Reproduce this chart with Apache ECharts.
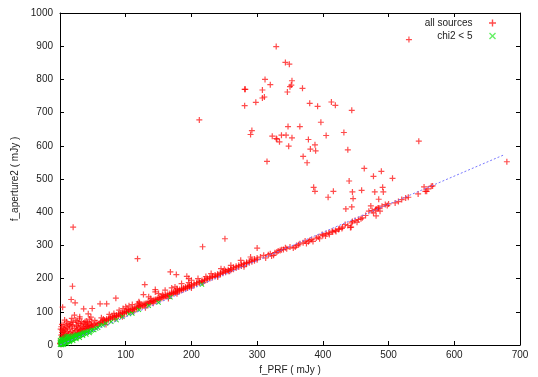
<!DOCTYPE html>
<html>
<head>
<meta charset="utf-8">
<title>f_aperture2 vs f_PRF</title>
<script src="https://cdn.jsdelivr.net/npm/echarts@6/dist/echarts.min.js"></script>
<style>
  html, body { margin: 0; padding: 0; background: #fff; }
  #chart { width: 538px; height: 377px; }
</style>
</head>
<body>
<div id="chart"></div>
<script>
// all sources: the main band along the fit line
var redBand = [
  [0,5],[1,3],[2,8],[1,15],[3,22],[2,30],[4,12],[5,25],[3,38],[6,18],[7,30],[5,45],[8,22],[9,35],[7,50],
  [10,28],[11,40],[12,20],[13,33],[14,48],[15,26],[16,38],[17,55],[18,30],[19,42],[20,25],[21,36],[22,50],
  [23,32],[24,44],[25,60],[26,35],[27,47],[28,38],[29,52],[30,40],[31,45],[32,58],[33,42],[34,50],[35,45],
  [36,55],[37,48],[38,62],[39,50],[40,56],[41,48],[42,60],[43,52],[44,58],[45,50],[46,64],[47,55],[48,60],
  [49,53],[50,58],[52,62],[54,56],[55,66],[57,60],[58,64],[60,65],
  [2,2],[4,6],[6,8],[8,10],[10,12],[12,13],[14,15],[16,18],[3,45],[6,60],[9,55],[12,65],[15,62],[20,68],
  [24,75],[28,66],[10,70],[33,70],[40,72],[45,78],[30,85],[38,70],[22,90],[1,48],[4,32],[2,55],[18,80],
  [5,40],[8,45],[11,52],[14,58],[19,60],[26,56],[31,64],[36,66],[42,68],[48,70],[53,74],[3,62],[7,75],
  [62,66],[62,70],[65,68],[65,73],[68,71],[68,75],[71,74],[71,78],[74,76],[74,80],[77,78],[77,83],
  [80,81],[80,86],[83,83],[83,88],[86,86],[86,90],[89,88],[89,93],[92,90],[92,95],[95,93],[95,98],
  [98,95],[98,100],[101,98],[101,102],[104,100],[104,105],[107,102],[107,107],[110,105],[110,110],
  [113,107],[113,112],[116,110],[116,114],[119,112],[119,117],[122,115],[122,119],[125,117],[125,122],
  [128,119],[128,124],[131,122],[131,126],[134,124],[134,129],[137,126],[137,131],[140,129],[140,134],
  [143,131],[143,136],[146,134],[146,138],[149,136],[149,141],[152,138],[152,143],[155,141],[155,146],
  [158,143],[158,148],[161,146],[161,150],[164,148],[164,153],[167,150],[167,155],[170,153],[170,158],
  [173,155],[173,160],[176,158],[176,162],[179,160],[179,165],[182,163],[182,167],[185,165],[185,170],
  [188,167],[188,172],[191,170],[191,175],[194,172],[194,177],[197,175],[197,179],[200,177],[200,182],
  [204,180],[204,185],[208,183],[208,188],[212,187],[212,191],[216,190],[216,194],[220,193],[220,198],
  [224,196],[224,201],[228,200],[228,204],[232,203],[232,207],[236,206],[236,211],[240,209],[240,214],
  [244,213],[244,217],[248,216],[248,220],[252,219],[252,224],[256,222],[256,227],[260,225],[260,230],
  [264,228],[264,234],[268,232],[268,237],[272,235],[272,240],[276,238],[276,243],[280,241],[280,246],
  [284,245],[284,249],[288,248],[288,253],[292,251],[292,256],[296,254],[296,259],[300,257],[300,262],
  [63,82],[75,92],[90,105],[100,115],[110,122],[120,130],[135,145],[150,155],[160,165],[175,175],
  [185,185],[200,195],[230,215],[260,240],[290,265],[96,110],[105,118],[145,160],[170,172],[210,200],
  [245,230],[275,255],[70,62],[95,85],[130,112],[165,140],[200,172],[240,205],[280,236],
  [66,78],[82,95],[102,108],[118,124],[138,140],[156,152],[178,170],[196,188],[222,206],[250,228],
  [84,78],[112,100],[142,126],[178,154],[218,188],[258,222],
  [317,272],[322,268],[327,278],[332,283],[337,287],[343,293],[358,295],[363,302],[373,313],[378,311],
  [383,318],[393,325],[399,333],[404,328],[409,338],[414,343],[419,345],[424,348],[429,351],[434,363],
  [444,368],[449,375],[454,378],[460,383],[470,403],[480,408],[495,423],[510,428],[520,438],[526,443],
  [556,463],[305,265],[310,270],[313,262],[320,275],[325,270],[330,280],[335,285],[340,288],[345,290],
  [350,295],[355,292],[360,300],[365,305],[370,308],[375,306],[380,315],[385,312],[390,322],[395,320],
  [400,330],[405,336],[410,333],[415,340],[420,342],[425,350],[430,355],[438,360],[445,372],[452,370],
  [458,380],[465,390],[475,405],[485,412],[490,418],[500,425],[515,432],[530,445],[545,455],[560,470],
  [565,478]
];

// all sources: points well off the band
var redOutliers = [
  [212,678],[329,899],[343,851],[349,846],[312,800],[320,784],[353,796],[352,783],[350,778],[281,770],
  [282,770],[308,768],[369,773],[346,762],[311,747],[308,744],[298,731],[281,721],[380,728],[392,719],
  [347,658],[365,658],[292,646],[290,634],[323,629],[329,622],[337,632],[344,632],[353,624],[378,619],
  [531,920],[413,732],[419,722],[444,707],[397,671],[432,640],[405,631],[330,620],[334,612],[388,603],
  [348,599],[381,590],[389,585],[370,568],[376,549],[315,553],[386,475],[388,463],[251,320],[217,296],
  [300,292],[438,588],[546,614],[463,532],[477,508],[489,523],[506,502],[440,494],[416,463],[459,466],
  [445,461],[446,441],[479,461],[491,475],[492,461],[408,445],[485,439],[435,410],[444,416],[554,476],
  [558,463],[567,479],[473,419],[482,410],[498,420],[442,354],[680,552],[484,413],[487,403],[477,398],
  [481,389],[443,355],
  [20,355],[19,177],[17,137],[4,114],[23,127],[118,260],[129,182],[127,152],[168,220],[177,212],
  [193,207],[196,200],[145,167],[85,141],[61,124],[71,124],[36,109],[49,110],[43,94],[47,84],[30,79],
  [26,72],[17,70],[121,127]
];

// chi2 < 5
var greenPoints = [
  [0,1],[1,2],[2,1],[1,5],[3,4],[4,2],[2,8],[5,6],[6,4],[4,10],[7,8],[8,6],[6,12],[9,10],[10,8],[8,14],
  [11,12],[12,10],[10,16],[13,14],[14,12],[12,18],[15,16],[16,14],[14,20],[17,18],[18,16],[16,22],
  [19,20],[20,18],[18,24],[21,22],[22,20],[20,26],[23,24],[24,22],[22,28],[25,26],[26,24],[24,30],
  [27,28],[28,26],[26,32],[29,30],[30,28],[31,32],[32,30],[33,34],[34,32],[35,36],[36,34],[37,38],
  [38,36],[40,38],[42,40],[44,42],[46,40],[48,44],[50,46],[52,45],[55,50],[58,52],[3,15],[5,18],[2,20],
  [7,22],[1,12],[0,8],[9,25],[11,26],[13,28],[0,15],[3,0],[6,1],[10,4],[15,9],[20,13],[25,18],[30,22],
  [35,28],[40,32],[45,36],
  [61,59],[65,60],[70,65],[78,70],[86,75],[95,85],[105,93],[110,95],[120,106],[135,118],[150,128],
  [168,144],[216,182]
];

// dashed fit line
var fitX = [0, 677];
var fitY = [0, 574];

var redPoints = redBand.concat(redOutliers);
var plusPath = 'path://M4,0h2v4h4v2h-4v4h-2v-4h-4v-2h4z';
var crossPath = 'path://M0,1.4L1.4,0L5,3.6L8.6,0L10,1.4L6.4,5L10,8.6L8.6,10L5,6.4L1.4,10L0,8.6L3.6,5z';

var chart = echarts.init(document.getElementById('chart'));

var fontFamily = 'Liberation Sans, Arial, sans-serif';
var axisLabelStyle = { color: '#222', fontSize: 10, fontFamily: fontFamily };
// onZero off, otherwise the mirrored top/right axes collapse onto the origin
var frameLine = { show: true, onZero: false, lineStyle: { color: '#000', width: 1 } };
var innerTick = { show: true, inside: true, length: 4, lineStyle: { color: '#000', width: 1 } };
var plainNum = function (v) { return String(v); };

chart.setOption({
  animation: false,
  backgroundColor: '#fff',
  grid: { left: 60, right: 18, top: 13, bottom: 32, outerBoundsMode: 'none', containLabel: false },
  legend: {
    orient: 'vertical',
    right: 37,
    top: 13,
    align: 'right',
    itemWidth: 30,
    itemHeight: 7,
    itemGap: 3,
    textStyle: { color: '#222', fontSize: 10, fontFamily: fontFamily },
    data: [
      { name: 'all sources', icon: plusPath },
      { name: 'chi2 < 5', icon: crossPath, itemStyle: { color: '#55ee55' } }
    ]
  },
  xAxis: [{
    type: 'value', min: 0, max: 700, interval: 100,
    name: 'f_PRF ( mJy )', nameLocation: 'middle', nameGap: 20,
    nameTextStyle: axisLabelStyle,
    axisLine: frameLine, axisTick: innerTick,
    axisLabel: Object.assign({ margin: 5, formatter: plainNum }, axisLabelStyle),
    splitLine: { show: false }
  }, {
    type: 'value', min: 0, max: 700, interval: 100, position: 'top',
    axisLine: frameLine, axisTick: innerTick, axisLabel: { show: false }, splitLine: { show: false }
  }],
  yAxis: [{
    type: 'value', min: 0, max: 1000, interval: 100,
    name: 'f_aperture2 ( mJy )', nameLocation: 'middle', nameGap: 40,
    nameTextStyle: axisLabelStyle,
    axisLine: frameLine, axisTick: innerTick,
    axisLabel: Object.assign({ margin: 7, formatter: plainNum }, axisLabelStyle),
    splitLine: { show: false }
  }, {
    type: 'value', min: 0, max: 1000, interval: 100, position: 'right',
    axisLine: frameLine, axisTick: innerTick, axisLabel: { show: false }, splitLine: { show: false }
  }],
  series: [{
    name: 'all sources',
    type: 'scatter',
    symbol: plusPath,
    symbolSize: 6,
    itemStyle: { color: '#ff0000', opacity: 0.7 },
    data: redPoints
  }, {
    name: 'chi2 < 5',
    type: 'scatter',
    symbol: crossPath,
    symbolSize: 5,
    itemStyle: { color: '#11dd11', opacity: 0.9 },
    data: greenPoints
  }, {
    name: 'fit',
    type: 'line',
    showSymbol: false,
    symbol: 'none',
    lineStyle: { color: '#7777ff', width: 1, type: [2, 2] },
    data: fitX.map(function (x, i) { return [x, fitY[i]]; }),
    z: 3
  }]
});
</script>
</body>
</html>
